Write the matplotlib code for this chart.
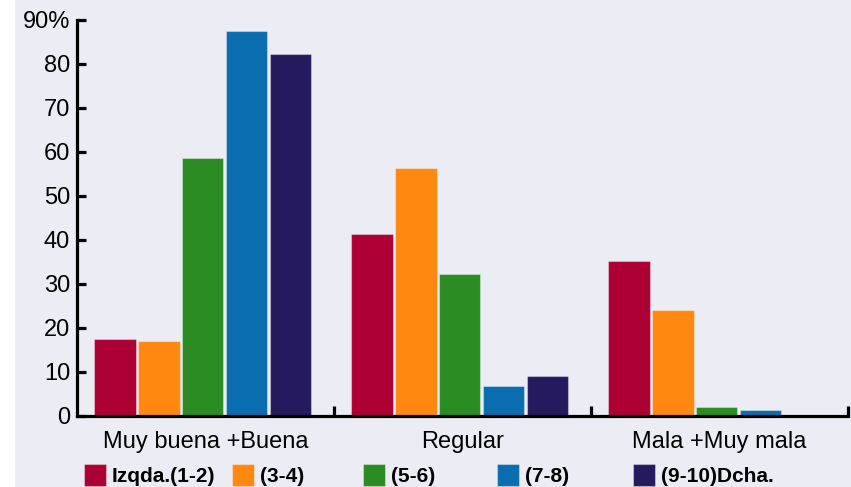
import numpy as np
import matplotlib
matplotlib.use('Agg')
import matplotlib.pyplot as plt
from matplotlib.patches import Rectangle

plt.rcParams['font.family'] = ['Liberation Sans', 'DejaVu Sans']

categories = ['Muy buena +Buena', 'Regular', 'Mala +Muy mala']
series = ['Izqda.(1-2)', '(3-4)', '(5-6)', '(7-8)', '(9-10)Dcha.']
izq_1_2 = [17.6, 41.3, 35.2]
s_3_4 = [17.0, 56.4, 24.2]
s_5_6 = [58.7, 32.2, 2.0]
s_7_8 = [87.6, 6.9, 1.4]
dcha_9_10 = [82.2, 9.1, 0.0]
yticks = [0, 10, 20, 30, 40, 50, 60, 70, 80, 90]
ytick_labels = ['0', '10', '20', '30', '40', '50', '60', '70', '80', '90%']

colors = ['#AD0034', '#FF8811', '#2A8C22', '#0A6DB0', '#251A5E']
bg = '#ECECF5'
W, H = 851, 487

fig = plt.figure(figsize=(W / 100, H / 100), dpi=100, facecolor=bg)
fig.add_artist(Rectangle((0, 0), 15 / W, 1, transform=fig.transFigure,
                         facecolor='white', edgecolor='none', zorder=-5))

ax = fig.add_axes([77 / W, 1 - 416 / H, (848 - 77) / W, (416 - 20) / H])
ax.set_facecolor(bg)

values = [izq_1_2, s_3_4, s_5_6, s_7_8, dcha_9_10]
x = np.arange(len(categories)) + 0.5
step = 0.171
width = 0.16
for i, (vals, c) in enumerate(zip(values, colors)):
    ax.bar(x + (i - 2) * step - 0.01, vals, width, color=c,
           edgecolor=(1, 1, 1, 0.35), linewidth=0.8, zorder=2)

ax.set_xlim(0, 3)
ax.set_ylim(0, 90)
for s in ['top', 'right']:
    ax.spines[s].set_visible(False)
for s in ['left', 'bottom']:
    ax.spines[s].set_linewidth(2.3)
    ax.spines[s].set_color('black')
    ax.spines[s].set_zorder(3)

ax.set_yticks(yticks)
ax.set_yticklabels(ytick_labels)
ax.tick_params(axis='y', direction='in', length=6.5, width=2.3, pad=5,
               labelsize=17, colors='black')

ax.set_xticks([1, 2, 3])
ax.set_xticklabels([])
ax.tick_params(axis='x', which='major', direction='in', length=7.5, width=2.3)
ax.set_xticks(x, minor=True)
ax.set_xticklabels(categories, minor=True)
ax.tick_params(axis='x', which='minor', length=0, pad=11, labelsize=17)

# legend drawn by hand to match spacing
leg_x = [84, 232, 363, 497, 633]
for lx, name, c in zip(leg_x, series, colors):
    fig.add_artist(Rectangle((lx / W, 1 - 486 / H), 22 / W, 22 / H,
                             transform=fig.transFigure, facecolor=c,
                             edgecolor=(1, 1, 1, 0.35), linewidth=0.8))
    fig.text((lx + 28) / W, 1 - 477 / H, name, fontsize=15, fontweight='bold',
             va='center', ha='left')

fig.savefig('out.png', dpi=100, facecolor=bg)
